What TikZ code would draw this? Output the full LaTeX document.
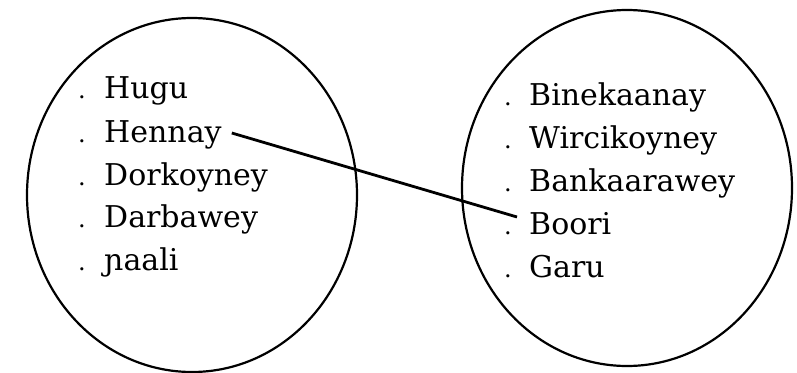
\documentclass[tikz,border=0pt]{standalone}
\usepackage{fontspec}
\setmainfont{DejaVu Serif}
\usetikzlibrary{shapes.geometric,calc}
\begin{document}
\begin{tikzpicture}[x=1pt,y=-1pt,
  setbox/.style={draw=black, line width=2.2pt, ellipse, inner sep=0pt},
  word/.style={anchor=base west, inner sep=0pt, font=\fontsize{30}{33}\selectfont},
  bullet/.style={anchor=base, inner sep=0pt, font=\fontsize{24}{30}\selectfont},
  link/.style={draw=black, line width=2.8pt}]
\useasboundingbox (0,0) rectangle (797,372);
% sets
\node[setbox, minimum width=330pt, minimum height=354pt] (L) at (192,195) {};
\node[setbox, minimum width=330pt, minimum height=356pt] (R) at (627,188) {};
% left list
\foreach \y/\n/\t in {98/hugu/Hugu,142/hennay/Hennay,185/dorkoyney/Dorkoyney,227/darbawey/Darbawey,270/naali/ɲaali}{
  \node[bullet] (d\n) at (82,\y) {.};
  \node[word] (\n) at (104,\y) {\t};
}
% right list
\foreach \y/\n/\t in {105/binekaanay/Binekaanay,148/wircikoyney/Wircikoyney,191/bankaarawey/Bankaarawey,234/boori/Boori,277/garu/Garu}{
  \node[bullet] (d\n) at (508,\y) {.};
  \node[word] (\n) at (529,\y) {\t};
}
\coordinate (a) at ($(hennay.base east)+(10pt,9pt)$);
\coordinate (b) at ($(boori.base west)+(-12pt,17pt)$);
\draw[link] (a) -- (b);
\end{tikzpicture}
\end{document}
